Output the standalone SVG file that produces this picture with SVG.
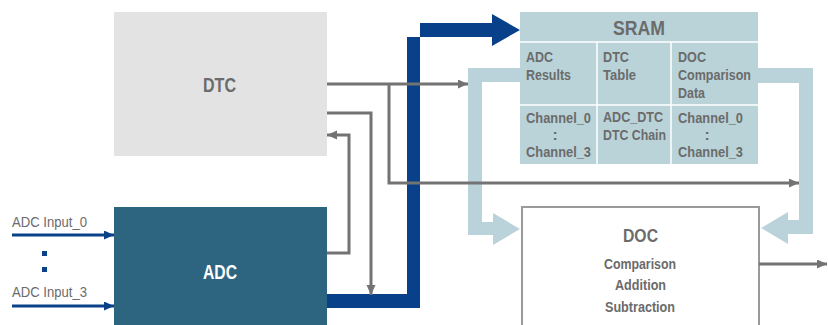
<svg xmlns="http://www.w3.org/2000/svg" width="828" height="325" viewBox="0 0 828 325">
<defs>
<style>
.t{font-family:"Liberation Sans",Arial,sans-serif;fill:#6b6b6b;font-weight:bold}
.big{font-size:21px}
.cell{font-size:15.5px}
.dc{font-size:14.5px}
.in{font-family:"Liberation Sans",Arial,sans-serif;fill:#6b6b6b;font-size:14px}
.g{fill:none;stroke:#737373;stroke-width:3}
.b{fill:none;stroke:#0a428a;stroke-width:3}
.lb{fill:#bad3da}
.sep{stroke:#ffffff;stroke-width:1.5}
</style>
<marker id="ag" markerUnits="userSpaceOnUse" markerWidth="11" markerHeight="10" refX="10" refY="4.5" orient="auto">
<path d="M0,0 L10,4.5 L0,9 z" fill="#737373"/>
</marker>
<marker id="ab" markerUnits="userSpaceOnUse" markerWidth="11" markerHeight="10" refX="10" refY="4.5" orient="auto">
<path d="M0,0 L10,4.5 L0,9 z" fill="#0a428a"/>
</marker>
</defs>
<rect width="828" height="325" fill="#ffffff"/>

<g id="data-paths">
<polygon class="lb" points="520,68 468,68 468,235 493,235 493,245 520,229 493,213 493,222 482,222 482,82 520,82"/>
<polygon class="lb" points="757,68 813,68 813,234 788,234 788,244 761,228 788,212 788,220 799,220 799,83 757,83"/>
</g>

<g id="dtc">
<rect x="114" y="12" width="213" height="144" fill="#e3e3e3"/>
<text class="t big" x="203" y="92" textLength="33" lengthAdjust="spacingAndGlyphs">DTC</text>
</g>

<g id="adc">
<rect x="114" y="207" width="213" height="120" fill="#2d6580"/>
<text class="t big" x="203" y="279" textLength="34" lengthAdjust="spacingAndGlyphs" style="fill:#ffffff">ADC</text>
</g>

<g id="sram">
<rect x="520" y="12" width="238" height="152" fill="#b9d3d9"/>
<line class="sep" x1="520" y1="42" x2="758" y2="42"/>
<line class="sep" x1="520" y1="105" x2="758" y2="105"/>
<line class="sep" x1="597" y1="42" x2="597" y2="164"/>
<line class="sep" x1="671" y1="42" x2="671" y2="164"/>
<text class="t big" x="613" y="35" textLength="52" lengthAdjust="spacingAndGlyphs">SRAM</text>
<text class="t cell" x="526" y="62" textLength="27" lengthAdjust="spacingAndGlyphs">ADC</text>
<text class="t cell" x="526" y="80" textLength="45" lengthAdjust="spacingAndGlyphs">Results</text>
<text class="t cell" x="603" y="62" textLength="26" lengthAdjust="spacingAndGlyphs">DTC</text>
<text class="t cell" x="603" y="80" textLength="33" lengthAdjust="spacingAndGlyphs">Table</text>
<text class="t cell" x="678" y="62" textLength="28" lengthAdjust="spacingAndGlyphs">DOC</text>
<text class="t cell" x="678" y="80" textLength="73" lengthAdjust="spacingAndGlyphs">Comparison</text>
<text class="t cell" x="678" y="98" textLength="27" lengthAdjust="spacingAndGlyphs">Data</text>
<text class="t cell" x="526" y="123" textLength="65" lengthAdjust="spacingAndGlyphs">Channel_0</text>
<text class="t cell" x="555" y="140" text-anchor="middle">:</text>
<text class="t cell" x="526" y="157" textLength="65" lengthAdjust="spacingAndGlyphs">Channel_3</text>
<text class="t cell" x="603" y="122" textLength="60" lengthAdjust="spacingAndGlyphs">ADC_DTC</text>
<text class="t cell" x="603" y="140" textLength="63" lengthAdjust="spacingAndGlyphs">DTC Chain</text>
<text class="t cell" x="678" y="123" textLength="65" lengthAdjust="spacingAndGlyphs">Channel_0</text>
<text class="t cell" x="707" y="140" text-anchor="middle">:</text>
<text class="t cell" x="678" y="157" textLength="65" lengthAdjust="spacingAndGlyphs">Channel_3</text>
</g>

<g id="doc">
<rect x="522" y="207" width="237" height="130" fill="#ffffff" stroke="#9a9a9a" stroke-width="2"/>
<text class="t" x="623" y="242" textLength="35" lengthAdjust="spacingAndGlyphs" style="font-size:18px">DOC</text>
<text class="t dc" x="604" y="269" textLength="72" lengthAdjust="spacingAndGlyphs">Comparison</text>
<text class="t dc" x="615" y="290" textLength="51" lengthAdjust="spacingAndGlyphs">Addition</text>
<text class="t dc" x="605" y="312" textLength="70" lengthAdjust="spacingAndGlyphs">Subtraction</text>
</g>

<g id="inputs">
<text class="in" x="12" y="227" textLength="75" lengthAdjust="spacingAndGlyphs">ADC Input_0</text>
<text class="in" x="12" y="297" textLength="75" lengthAdjust="spacingAndGlyphs">ADC Input_3</text>
<rect x="42" y="251" width="5" height="5" fill="#0a428a"/>
<rect x="42" y="267" width="5" height="5" fill="#0a428a"/>
</g>

<g id="connectors">
<polygon fill="#08418a" points="327,294 407,294 407,37 492,37 492,14 520,30 492,46 492,23 420,23 420,308 327,308"/>
<path class="g" d="M327,84 H468" marker-end="url(#ag)"/>
<path class="g" d="M389,84 V183 H799" marker-end="url(#ag)"/>
<path class="g" d="M327,113 H371 V295" marker-end="url(#ag)"/>
<path class="g" d="M327,253 H349 V135 H327" marker-end="url(#ag)"/>
<path class="g" d="M759,264 H827" marker-end="url(#ag)"/>
<path class="b" d="M12,235 H114" marker-end="url(#ab)"/>
<path class="b" d="M12,306 H114" marker-end="url(#ab)"/>
</g>
</svg>
